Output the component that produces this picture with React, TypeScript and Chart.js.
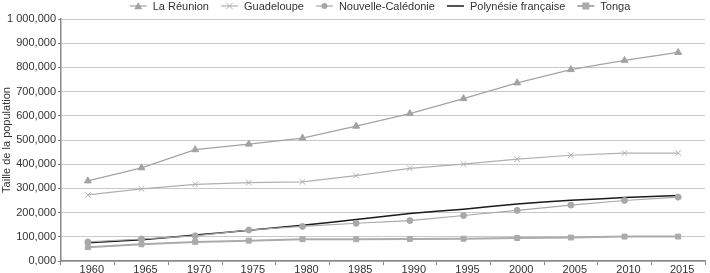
import React, { useEffect, useRef } from "react";
import { Chart, registerables } from "chart.js";

Chart.register(...registerables);

const years = ["1960","1965","1970","1975","1980","1985","1990","1995","2000","2005","2010","2015"];
const reunion = [331000, 385000, 460000, 483000, 508000, 557000, 609000, 671000, 736000, 791000, 829000, 862000];
const guadeloupe = [273000, 298000, 317000, 324000, 327000, 353000, 383000, 400000, 421000, 437000, 446000, 446000];
const caledonie = [79000, 91000, 104000, 128000, 143000, 156000, 167000, 188000, 209000, 231000, 250000, 264000];
const polynesie = [75000, 88000, 107000, 127000, 148000, 171000, 196000, 214000, 236000, 251000, 262000, 271000];
const tonga = [57000, 69000, 79000, 84000, 90000, 90000, 91000, 92000, 95000, 97000, 101000, 101000];
const yTicks = [0, 100000, 200000, 300000, 400000, 500000, 600000, 700000, 800000, 900000, 1000000];

const FONT = "'Liberation Sans', Arial, sans-serif";

function fmt(v: number): string {
  const k = Math.round(v / 1000);
  const s = String(k).replace(/\B(?=(\d{3})+(?!\d))/g, " ");
  return s + ",000";
}

type Item = { label: string; color: string; style: string | false; width: number; radius: number };

function drawMarker(ctx: CanvasRenderingContext2D, style: string, x: number, y: number, r: number, color: string) {
  ctx.save();
  ctx.fillStyle = color;
  ctx.strokeStyle = color;
  ctx.lineWidth = 1;
  ctx.beginPath();
  if (style === "triangle") {
    ctx.moveTo(x, y - r);
    ctx.lineTo(x + r, y + r * 0.8);
    ctx.lineTo(x - r, y + r * 0.8);
    ctx.closePath();
    ctx.fill();
  } else if (style === "circle") {
    ctx.arc(x, y, r, 0, Math.PI * 2);
    ctx.fill();
  } else if (style === "rect") {
    ctx.rect(x - r, y - r, 2 * r, 2 * r);
    ctx.fill();
  } else if (style === "crossRot") {
    ctx.moveTo(x - r * 0.8, y - r * 0.8);
    ctx.lineTo(x + r * 0.8, y + r * 0.8);
    ctx.moveTo(x + r * 0.8, y - r * 0.8);
    ctx.lineTo(x - r * 0.8, y + r * 0.8);
    ctx.stroke();
  }
  ctx.restore();
}

const legendPlugin = {
  id: "customLegend",
  afterDraw(chart: any) {
    const ctx: CanvasRenderingContext2D = chart.ctx;
    const items: Item[] = chart.data.datasets.map((d: any) => ({
      label: d.label,
      color: d.borderColor,
      style: d.pointRadius > 0 ? d.pointStyle : false,
      width: d.borderWidth,
      radius: d.pointRadius,
    }));
    ctx.save();
    ctx.font = "11px " + FONT;
    const iconW = 17, gapT = 6, gapI = 12;
    let total = 0;
    items.forEach((it, i) => {
      total += iconW + gapT + ctx.measureText(it.label).width + (i < items.length - 1 ? gapI : 0);
    });
    let x = 380 - total / 2;
    const y = 6;
    items.forEach((it) => {
      ctx.strokeStyle = it.color;
      ctx.lineWidth = it.width;
      ctx.beginPath();
      ctx.moveTo(x, y);
      ctx.lineTo(x + iconW, y);
      ctx.stroke();
      if (it.style) drawMarker(ctx, it.style as string, x + iconW / 2, y, it.radius, it.color);
      ctx.fillStyle = "#333";
      ctx.textBaseline = "middle";
      ctx.textAlign = "left";
      ctx.fillText(it.label, x + iconW + gapT, y + 0.5);
      x += iconW + gapT + ctx.measureText(it.label).width + gapI;
    });
    ctx.restore();
  },
};

export default function App() {
  const ref = useRef<HTMLCanvasElement | null>(null);
  useEffect(() => {
    document.body.style.margin = "0";
    if (!ref.current) return;
    const chart = new Chart(ref.current, {
      type: "line",
      data: {
        labels: years,
        datasets: [
          { label: "La Réunion", data: reunion, borderColor: "#a3a3a3", backgroundColor: "#a3a3a3", borderWidth: 1.2, pointStyle: "triangle", pointRadius: 4, pointBorderWidth: 1 },
          { label: "Guadeloupe", data: guadeloupe, borderColor: "#b0b0b0", backgroundColor: "#b0b0b0", borderWidth: 1.2, pointStyle: "crossRot", pointRadius: 4, pointBorderWidth: 1 },
          { label: "Nouvelle-Calédonie", data: caledonie, borderColor: "#a8a8a8", backgroundColor: "#a8a8a8", borderWidth: 1.2, pointStyle: "circle", pointRadius: 3, pointBorderWidth: 1 },
          { label: "Polynésie française", data: polynesie, borderColor: "#1a1a1a", backgroundColor: "#1a1a1a", borderWidth: 1.5, pointStyle: "circle", pointRadius: 0, tension: 0.15 },
          { label: "Tonga", data: tonga, borderColor: "#ababab", backgroundColor: "#ababab", borderWidth: 2, pointStyle: "rect", pointRadius: 3.5, pointBorderWidth: 1 },
        ],
      },
      options: {
        animation: false,
        responsive: false,
        maintainAspectRatio: false,
        layout: { padding: { top: 19, right: 1, left: 0, bottom: 0 } },
        plugins: { legend: { display: false }, tooltip: { enabled: false } },
        scales: {
          x: {
            offset: true,
            grid: { offset: true, drawOnChartArea: false, drawTicks: true, tickLength: 4, color: "#888" },
            border: { color: "#888", width: 1.5 },
            ticks: { color: "#333", font: { family: FONT, size: 11 }, padding: -2, labelOffset: 4, maxRotation: 0, autoSkip: false },
            afterFit: (s: any) => { s.height = 12; s.paddingRight = 0; s.paddingLeft = 0; },
          },
          y: {
            min: 0,
            max: 1000000,
            afterBuildTicks: (s: any) => { s.ticks = yTicks.map((v) => ({ value: v })); },
            grid: { color: "#c8c8c8", lineWidth: 1, tickLength: 3, tickColor: "#888" },
            border: { color: "#888", width: 1.5 },
            ticks: { color: "#333", font: { family: FONT, size: 11 }, padding: 2, callback: (v: any) => fmt(Number(v)) },
            title: { display: true, text: "Taille de la population", color: "#333", font: { family: FONT, size: 11 }, padding: { top: 0, bottom: 0 } },
            afterFit: (s: any) => { s.width = 61; },
          },
        },
      },
      plugins: [legendPlugin],
    } as any);
    return () => chart.destroy();
  }, []);
  return <canvas ref={ref} width={710} height={273} style={{ display: "block", width: 710, height: 273 }} />;
}
